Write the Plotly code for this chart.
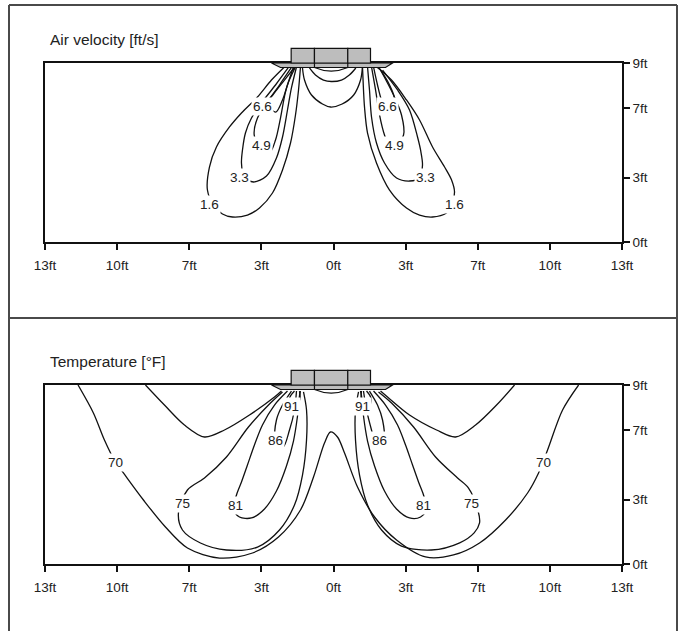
import plotly.graph_objects as go

# ---------------- axis ticks ----------------
X_TICKS = [-4, -3, -2, -1, 0, 1, 2, 3, 4]
X_TICK_TEXT = ["13ft", "10ft", "7ft", "3ft", "0ft", "3ft", "7ft", "10ft", "13ft"]
Y_TICKS = [0, 0.97, 2.02, 2.7]
Y_TICK_TEXT = ["0ft", "3ft", "7ft", "9ft"]

# ---------------- air velocity isolines (x [m], y [m]) ----------------
V16_L = [(-0.666, 2.655), (-0.860, 2.443), (-1.054, 2.187), (-1.276, 1.946), (-1.442, 1.735),
         (-1.623, 1.433), (-1.720, 1.131), (-1.748, 0.784), (-1.66, 0.55), (-1.540, 0.422),
         (-1.401, 0.377), (-1.193, 0.407), (-1.026, 0.513), (-0.846, 0.739), (-0.707, 1.086),
         (-0.596, 1.493), (-0.527, 1.916), (-0.485, 2.293), (-0.458, 2.640)]
V33_L = [(-0.610, 2.655), (-0.804, 2.368), (-0.999, 2.097), (-1.137, 1.870), (-1.221, 1.644),
         (-1.262, 1.388), (-1.276, 1.192), (-1.24, 0.98), (-1.110, 0.905), (-0.929, 0.995),
         (-0.791, 1.267), (-0.707, 1.584), (-0.638, 1.991), (-0.583, 2.323), (-0.513, 2.640)]
V49_L = [(-0.569, 2.655), (-0.749, 2.368), (-0.915, 2.112), (-1.054, 1.870), (-1.10, 1.62),
         (-1.02, 1.40), (-0.888, 1.342), (-0.804, 1.538), (-0.735, 1.870), (-0.666, 2.262),
         (-0.555, 2.640)]
V66_L = [(-0.527, 2.655), (-0.680, 2.443), (-0.832, 2.232), (-0.915, 2.10), (-0.80, 1.96),
         (-0.707, 2.142), (-0.624, 2.413), (-0.527, 2.640)]
V16_R = [(0.583, 2.655), (0.804, 2.443), (1.012, 2.142), (1.193, 1.840), (1.373, 1.433),
         (1.540, 1.131), (1.637, 0.935), (1.678, 0.754), (1.64, 0.55), (1.567, 0.437),
         (1.373, 0.377), (1.193, 0.407), (1.012, 0.513), (0.777, 0.784), (0.596, 1.192),
         (0.472, 1.644), (0.430, 2.036), (0.416, 2.293), (0.402, 2.640)]
V33_R = [(0.472, 2.640), (0.499, 2.293), (0.527, 1.885), (0.596, 1.493), (0.707, 1.192),
         (0.874, 0.965), (1.054, 0.920), (1.193, 0.965), (1.234, 1.161), (1.207, 1.388),
         (1.165, 1.584), (1.054, 1.991), (0.888, 2.293), (0.680, 2.594)]
V49_R = [(0.527, 2.640), (0.583, 2.293), (0.638, 1.916), (0.707, 1.614), (0.804, 1.388),
         (0.971, 1.614), (0.943, 1.916), (0.832, 2.217), (0.652, 2.594)]
V66_R = [(0.555, 2.640), (0.610, 2.368), (0.666, 2.142), (0.749, 1.991), (0.846, 2.142),
         (0.777, 2.368), (0.624, 2.640)]
V_CENTER_BIG = [(-0.430, 2.625), (-0.402, 2.443), (-0.305, 2.217), (-0.153, 2.081), (-0.04, 2.036),
                (0.12, 2.081), (0.28, 2.217), (0.375, 2.443), (0.40, 2.625)]
V_CENTER_SMALL = [(-0.333, 2.625), (-0.250, 2.519), (-0.139, 2.443), (-0.03, 2.421),
                  (0.11, 2.443), (0.22, 2.519), (0.31, 2.625)]
VEL_CURVES = [V16_L, V33_L, V49_L, V66_L, V16_R, V33_R, V49_R, V66_R, V_CENTER_BIG, V_CENTER_SMALL]

VEL_LABEL_TEXT = ["6.6", "4.9", "3.3", "1.6", "6.6", "4.9", "3.3", "1.6"]
VEL_LABEL_X = [-0.985, -1.0, -1.31, -1.72, 0.75, 0.85, 1.28, 1.68]
VEL_LABEL_Y = [2.04, 1.45, 0.98, 0.57, 2.04, 1.45, 0.98, 0.57]

# ---------------- temperature isolines (x [m], y [m]) ----------------
T70 = [(-3.542, 2.70), (-3.329, 2.278), (-3.176, 1.870), (-3.024, 1.538), (-2.913, 1.373),
       (-2.635, 0.965), (-2.330, 0.558), (-2.025, 0.241), (-1.581, 0.090), (-1.123, 0.166),
       (-0.763, 0.407), (-0.458, 0.814), (-0.277, 1.312), (-0.125, 1.825), (-0.042, 1.991),
       (0.055, 1.916), (0.153, 1.674), (0.333, 1.161), (0.569, 0.709), (0.874, 0.362),
       (1.276, 0.106), (1.664, 0.136), (2.025, 0.317), (2.386, 0.664), (2.691, 1.071),
       (2.843, 1.373), (2.968, 1.719), (3.176, 2.323), (3.398, 2.70)]
T_TOP_L = [(-2.607, 2.70), (-2.344, 2.398), (-2.067, 2.097), (-1.789, 1.916), (-1.512, 2.021),
           (-1.165, 2.247), (-0.818, 2.519), (-0.721, 2.609)]
T_TOP_R = [(2.510, 2.70), (2.261, 2.398), (1.970, 2.097), (1.692, 1.916), (1.429, 2.021),
           (1.054, 2.247), (0.749, 2.519), (0.652, 2.609)]
T75_L = [(-0.707, 2.595), (-0.874, 2.428), (-1.179, 2.066), (-1.484, 1.614), (-1.789, 1.297),
         (-2.025, 1.116), (-2.150, 0.77), (-2.094, 0.513), (-1.845, 0.317), (-1.484, 0.211),
         (-1.054, 0.256), (-0.749, 0.513), (-0.541, 0.890), (-0.430, 1.342), (-0.374, 1.870),
         (-0.374, 2.323), (-0.416, 2.595)]
T81_L = [(-0.638, 2.609), (-0.818, 2.398), (-0.985, 2.097), (-1.096, 1.795), (-1.193, 1.493),
         (-1.276, 1.237), (-1.345, 1.041), (-1.387, 0.830), (-1.304, 0.709), (-1.137, 0.694),
         (-0.957, 0.830), (-0.791, 1.101), (-0.652, 1.478), (-0.555, 1.855), (-0.499, 2.232),
         (-0.471, 2.540), (-0.458, 2.609)]
T86_L = [(-0.583, 2.609), (-0.707, 2.398), (-0.791, 2.172), (-0.805, 1.90), (-0.70, 1.76),
         (-0.610, 2.021), (-0.541, 2.323), (-0.513, 2.609)]
T91_L = [(-0.541, 2.609), (-0.61, 2.50), (-0.58, 2.37), (-0.47, 2.47), (-0.471, 2.609)]
T75_R = [(0.624, 2.595), (0.805, 2.428), (1.110, 2.066), (1.415, 1.614), (1.720, 1.297),
         (1.872, 1.146), (2.005, 0.80), (2.025, 0.62), (1.950, 0.470), (1.75, 0.32),
         (1.359, 0.211), (0.943, 0.271), (0.666, 0.513), (0.472, 0.890), (0.361, 1.342),
         (0.305, 1.870), (0.305, 2.323), (0.347, 2.595)]
T81_R = [(0.555, 2.609), (0.721, 2.398), (0.888, 2.097), (0.999, 1.795), (1.096, 1.493),
         (1.179, 1.237), (1.248, 1.041), (1.290, 0.830), (1.207, 0.709), (1.054, 0.694),
         (0.874, 0.830), (0.707, 1.101), (0.569, 1.478), (0.472, 1.855), (0.416, 2.232),
         (0.388, 2.540), (0.374, 2.609)]
T86_R = [(0.499, 2.609), (0.610, 2.398), (0.680, 2.172), (0.70, 1.90), (0.60, 1.76),
         (0.527, 2.021), (0.458, 2.323), (0.416, 2.609)]
T91_R = [(0.458, 2.609), (0.52, 2.50), (0.49, 2.37), (0.39, 2.47), (0.388, 2.609)]
TEMP_CURVES = [T70, T_TOP_L, T_TOP_R, T75_L, T81_L, T86_L, T91_L, T75_R, T81_R, T86_R, T91_R]

TEMP_LABEL_TEXT = ["70", "75", "81", "86", "91", "70", "75", "81", "86", "91"]
TEMP_LABEL_X = [-3.024, -2.094, -1.36, -0.80, -0.58, 2.913, 1.92, 1.25, 0.64, 0.40]
TEMP_LABEL_Y = [1.538, 0.92, 0.89, 1.86, 2.37, 1.538, 0.92, 0.89, 1.86, 2.37]

# ---------------- figure ----------------
W, H = 681, 631
X_DOM = [45 / W, 622 / W]
Y_DOM_TOP = [1 - 242 / H, 1 - 63 / H]
Y_DOM_BOT = [1 - 564 / H, 1 - 385 / H]

fig = go.Figure()
LINE = dict(color="#111111", width=1.3)

for c in VEL_CURVES:
    fig.add_trace(go.Scatter(x=[p[0] for p in c], y=[p[1] for p in c], mode="lines",
                             line=dict(shape="spline", smoothing=0.9, **LINE),
                             xaxis="x", yaxis="y", showlegend=False, hoverinfo="skip"))
for c in TEMP_CURVES:
    fig.add_trace(go.Scatter(x=[p[0] for p in c], y=[p[1] for p in c], mode="lines",
                             line=dict(shape="spline", smoothing=0.9, **LINE),
                             xaxis="x2", yaxis="y2", showlegend=False, hoverinfo="skip"))

FAMILY = "Liberation Sans, Arial, sans-serif"
TICKFONT = dict(family=FAMILY, size=13.5, color="#222222")
LABELFONT = dict(family=FAMILY, size=13.5, color="#222222")
TITLEFONT = dict(family=FAMILY, size=15.5, color="#222222")

annotations = []
for t, x, y in zip(VEL_LABEL_TEXT, VEL_LABEL_X, VEL_LABEL_Y):
    annotations.append(dict(text=t, x=x, y=y, xref="x", yref="y", showarrow=False,
                            bgcolor="white", borderpad=1, font=LABELFONT))
for t, x, y in zip(TEMP_LABEL_TEXT, TEMP_LABEL_X, TEMP_LABEL_Y):
    annotations.append(dict(text=t, x=x, y=y, xref="x2", yref="y2", showarrow=False,
                            bgcolor="white", borderpad=1, font=LABELFONT))
annotations.append(dict(text="Air velocity [ft/s]", x=48 / W, y=1 - 39.5 / H, xref="paper", yref="paper",
                        xanchor="left", yanchor="middle", showarrow=False, font=TITLEFONT))
annotations.append(dict(text="Temperature [°F]", x=48 / W, y=1 - 361.5 / H, xref="paper", yref="paper",
                        xanchor="left", yanchor="middle", showarrow=False, font=TITLEFONT))

shapes = []
FRAME = dict(color="#4a4a4a", width=2)
L, R, T = 9 / W, 677 / W, 1 - 5 / H
shapes += [
    dict(type="line", xref="paper", yref="paper", x0=L, x1=L, y0=0, y1=T, line=FRAME),
    dict(type="line", xref="paper", yref="paper", x0=R, x1=R, y0=0, y1=T, line=FRAME),
    dict(type="line", xref="paper", yref="paper", x0=L, x1=R, y0=T, y1=T, line=FRAME),
    dict(type="line", xref="paper", yref="paper", x0=L, x1=R, y0=1 - 318 / H, y1=1 - 318 / H, line=FRAME),
]

# diffuser drawing (x in axis metres, y in fraction of the axis domain)
GRAY = "#bdbdbd"
DL = dict(color="#111111", width=1.2)
for xr, yr in (("x", "y domain"), ("x2", "y2 domain")):
    shapes.append(dict(type="path", xref=xr, yref=yr,
                       path="M -0.86 1.0 L 0.818 1.0 L 0.721 0.975 L -0.735 0.975 Z",
                       fillcolor=GRAY, line=DL))
    for a, b in ((-0.587, -0.264), (-0.264, 0.198), (0.198, 0.513)):
        shapes.append(dict(type="rect", xref=xr, yref=yr, x0=a, x1=b, y0=1.0, y1=1.082,
                           fillcolor=GRAY, line=DL))
    for a in (-0.264, 0.198):
        shapes.append(dict(type="line", xref=xr, yref=yr, x0=a, x1=a, y0=0.975, y1=1.0, line=DL))
    shapes.append(dict(type="path", xref=xr, yref=yr,
                       path="M -0.264 0.975 Q -0.03 0.935 0.198 0.975", line=DL))

xaxis_common = dict(range=[-4, 4], domain=X_DOM, tickvals=X_TICKS, ticktext=X_TICK_TEXT,
                    showline=True, mirror=True, linecolor="#111111", linewidth=1.5,
                    ticks="outside", ticklen=6, tickwidth=1.5, tickcolor="#111111",
                    showgrid=False, zeroline=False, tickfont=TICKFONT, ticklabelstandoff=4,
                    fixedrange=True, automargin=False)
yaxis_common = dict(range=[0, 2.7], tickvals=Y_TICKS, ticktext=Y_TICK_TEXT, side="right",
                    showline=True, mirror=True, linecolor="#111111", linewidth=1.5,
                    ticks="outside", ticklen=6, tickwidth=1.5, tickcolor="#111111",
                    showgrid=False, zeroline=False, tickfont=TICKFONT, fixedrange=True,
                    automargin=False)

fig.update_layout(
    template="none",
    width=W, height=H, autosize=False,
    margin=dict(l=0, r=0, t=0, b=0, pad=0, autoexpand=False),
    paper_bgcolor="white", plot_bgcolor="white",
    xaxis=dict(anchor="y", **xaxis_common),
    yaxis=dict(anchor="x", domain=Y_DOM_TOP, **yaxis_common),
    xaxis2=dict(anchor="y2", **xaxis_common),
    yaxis2=dict(anchor="x2", domain=Y_DOM_BOT, **yaxis_common),
    annotations=annotations, shapes=shapes, showlegend=False,
)

fig.write_html("out.html", config={"responsive": False, "displayModeBar": False},
               post_script="document.body.style.margin='0';document.body.style.overflow='hidden';")
